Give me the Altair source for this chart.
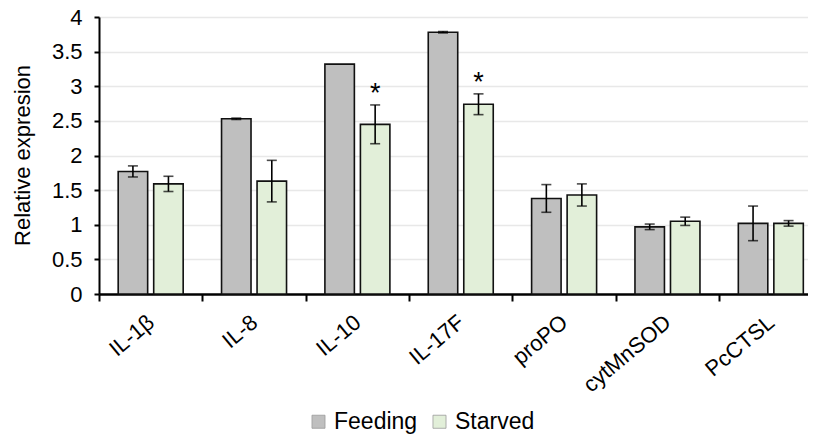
import altair as alt
import pandas as pd

genes = ["IL-1β", "IL-8", "IL-10", "IL-17F", "proPO", "cytMnSOD", "PcCTSL"]
groups = ["Feeding", "Starved"]
feeding = [1.77, 2.53, 3.32, 3.78, 1.38, 0.97, 1.02]
feeding_err = [0.08, 0.01, 0.0, 0.01, 0.20, 0.04, 0.25]
starved = [1.59, 1.63, 2.45, 2.74, 1.43, 1.05, 1.02]
starved_err = [0.11, 0.30, 0.28, 0.15, 0.16, 0.06, 0.04]
starved_sig = ["", "", "*", "*", "", "", ""]
y_ticks = [0, 0.5, 1, 1.5, 2, 2.5, 3, 3.5, 4]
colors = ["#bfbfbf", "#e2efd9"]

rows = []
for i, g in enumerate(genes):
    rows.append({"gene": g, "group": "Feeding", "value": feeding[i], "err": feeding_err[i], "sig": ""})
    rows.append({"gene": g, "group": "Starved", "value": starved[i], "err": starved_err[i], "sig": starved_sig[i]})
df = pd.DataFrame(rows)
df["lo"] = df["value"] - df["err"]
df["hi"] = df["value"] + df["err"]

FONT = "Liberation Sans"

xaxis = alt.Axis(title=None, labelAngle=-40, labelAlign="right", labelBaseline="middle",
                 labelFontSize=22, labelPadding=18, labelColor="#000", labelFont=FONT,
                 tickBand="extent", tickSize=7, tickWidth=2, tickColor="#000",
                 domainColor="#000", domainWidth=2.5, grid=False)
yaxis = alt.Axis(title="Relative expresion", values=y_ticks,
                 labelExpr="format(datum.value, '~g')", labelOverlap=False,
                 labelFontSize=22, labelColor="#000", labelFont=FONT, labelPadding=12,
                 tickSize=5, tickWidth=2, tickColor="#000",
                 domainColor="#000", domainWidth=2,
                 titleFontSize=22, titleFontWeight="normal", titleFont=FONT, titleColor="#000",
                 titleX=-77, titleY=138, titleAngle=-90, titleBaseline="middle", titleAlign="center",
                 grid=True, gridColor="#e8e8e8", gridWidth=1.5)
xscale = alt.Scale(domain=genes, range=[0, 723.5], paddingInner=0, paddingOuter=0)
yscale = alt.Scale(domain=[0, 4], nice=False)

def X():
    return alt.X("gene:N", sort=genes, scale=xscale, axis=xaxis)

def XO():
    return alt.XOffset("group:N", sort=groups,
                       scale=alt.Scale(domain=groups, paddingInner=0.17, paddingOuter=0.54))

def Y(field):
    return alt.Y(field, type="quantitative", scale=yscale, axis=yaxis)

base = alt.Chart(df)

bars = base.mark_bar(stroke="#111", strokeWidth=1.6).encode(
    x=X(), xOffset=XO(), y=Y("value"),
    color=alt.Color("group:N", sort=groups,
                    scale=alt.Scale(domain=groups, range=colors),
                    legend=alt.Legend(title=None, orient="none", direction="horizontal",
                                      legendX=208, legendY=393, symbolType="square",
                                      symbolSize=170, symbolStrokeColor="#9a9a9a",
                                      symbolStrokeWidth=0.8, labelFontSize=23, labelFont=FONT,
                                      labelColor="#000", columnPadding=10, labelOffset=4))
)

errdf = base.transform_filter("datum.err > 0")
rules = errdf.mark_rule(color="#000", strokeWidth=1.6).encode(
    x=X(), xOffset=XO(), y=Y("lo"), y2="hi:Q")
caps_hi = errdf.mark_tick(color="#000", thickness=1.6, size=10, orient="horizontal").encode(
    x=X(), xOffset=XO(), y=Y("hi"))
caps_lo = errdf.mark_tick(color="#000", thickness=1.6, size=10, orient="horizontal").encode(
    x=X(), xOffset=XO(), y=Y("lo"))
stars = base.transform_filter("datum.sig != ''").mark_text(
    fontSize=27, font=FONT, color="#000", baseline="alphabetic", dy=-3).encode(
    x=X(), xOffset=XO(), y=Y("hi"), text="sig:N")

chart = alt.layer(bars, rules, caps_hi, caps_lo, stars).properties(
    width=709, height=277,
    autosize=alt.AutoSizeParams(type="none"),
    padding={"left": 91, "top": 9, "right": 0, "bottom": 144},
).configure_view(stroke=None).configure(background="#ffffff")

chart.save("out.html", embed_options={"renderer": "svg", "actions": False})
